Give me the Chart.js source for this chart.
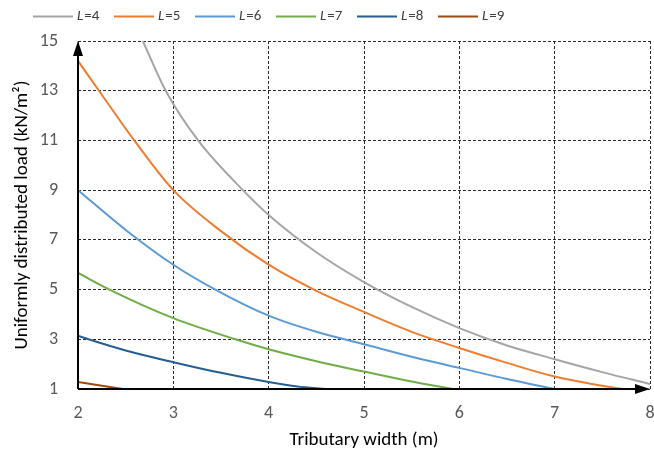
<!DOCTYPE html>
<html>
<head>
<meta charset="utf-8">
<script src="https://cdn.jsdelivr.net/npm/chart.js@4"></script>
<style>
  html, body { margin: 0; padding: 0; background: #fff; }
  #wrap { width: 654px; height: 453px; position: relative; }
</style>
</head>
<body>
<div id="wrap"><canvas id="chart"></canvas></div>
<script>
// hodnoty: [šířka (m), zatížení (kN/m2)]
const spanLabels = ["4", "5", "6", "7", "8", "9"];
const spanColors = ["#A5A5A5", "#ED7D31", "#5B9BD5", "#70AD47", "#255E91", "#9E480E"];

const loadL4 = [[2.68, 15], [2.92, 13], [3.26, 11], [3.73, 9], [4, 8], [4.5, 6.5], [5, 5.3], [5.5, 4.3], [6, 3.45], [6.5, 2.75], [7, 2.2], [7.5, 1.68], [8, 1.2]];
const loadL5 = [[2, 14.2], [2.22, 13], [2.59, 11], [3, 9], [3.5, 7.35], [4, 6], [4.5, 4.95], [5, 4.1], [5.5, 3.3], [6, 2.65], [6.5, 2.05], [7, 1.5], [7.5, 1.13], [7.71, 1]];
const loadL6 = [[2, 9], [2.5, 7.4], [3, 6], [3.44, 5], [4, 3.95], [4.5, 3.3], [5, 2.8], [5.5, 2.3], [6, 1.85], [6.5, 1.4], [7, 1]];
const loadL7 = [[2, 5.67], [2.33, 5], [3, 3.85], [3.65, 3], [4, 2.6], [4.5, 2.12], [5, 1.7], [5.5, 1.3], [5.93, 1]];
const loadL8 = [[2, 3.14], [2.11, 3], [2.5, 2.55], [3, 2.08], [3.5, 1.65], [4, 1.28], [4.3, 1.1], [4.6, 1]];
const loadL9 = [[2, 1.28], [2.47, 1]];

const seriesData = [loadL4, loadL5, loadL6, loadL7, loadL8, loadL9];

const xMin = 2, xMax = 8, xStep = 1;
const yMin = 1, yMax = 15, yStep = 2;

const FONT = "Carlito, Lato, 'Open Sans', sans-serif";

// legenda nahoře (kurzíva L)
const legendPlugin = {
  id: "topLegend",
  afterDraw(chart) {
    const ctx = chart.ctx;
    let x = 33;
    const y = 16.5;
    ctx.save();
    chart.data.datasets.forEach((ds, i) => {
      ctx.strokeStyle = ds.borderColor;
      ctx.lineWidth = 2;
      ctx.beginPath();
      ctx.moveTo(x, y);
      ctx.lineTo(x + 40, y);
      ctx.stroke();
      ctx.fillStyle = "#404040";
      ctx.textBaseline = "middle";
      ctx.font = "italic 15px " + FONT;
      ctx.fillText("L", x + 44, y);
      const w1 = ctx.measureText("L").width;
      ctx.font = "15px " + FONT;
      ctx.fillText("=" + spanLabels[i], x + 44 + w1 + 1, y);
      x += 81;
    });
    ctx.restore();
  },
};

// šipky na koncích os
const arrowPlugin = {
  id: "axisArrows",
  afterDatasetsDraw(chart) {
    const { ctx, chartArea } = chart;
    const { left, right, top, bottom } = chartArea;
    ctx.save();
    ctx.strokeStyle = "#000";
    ctx.fillStyle = "#000";
    ctx.lineWidth = 2;
    ctx.beginPath();
    ctx.moveTo(left, bottom);
    ctx.lineTo(left, top + 4);
    ctx.moveTo(left, bottom);
    ctx.lineTo(right - 4, bottom);
    ctx.stroke();
    ctx.beginPath();
    ctx.moveTo(left, top);
    ctx.lineTo(left - 5, top + 15);
    ctx.lineTo(left + 5, top + 15);
    ctx.closePath();
    ctx.fill();
    ctx.beginPath();
    ctx.moveTo(right, bottom);
    ctx.lineTo(right - 15, bottom - 5);
    ctx.lineTo(right - 15, bottom + 5);
    ctx.closePath();
    ctx.fill();
    ctx.restore();
  },
};

const datasets = seriesData.map((rows, i) => ({
  label: "L=" + spanLabels[i],
  data: rows.map(([x, y]) => ({ x, y })),
  borderColor: spanColors[i],
  backgroundColor: spanColors[i],
  borderWidth: 2,
  pointRadius: 0,
  cubicInterpolationMode: "monotone",
  fill: false,
}));

const ctx = document.getElementById("chart").getContext("2d");
new Chart(ctx, {
  type: "line",
  data: { datasets },
  options: {
    responsive: true,
    maintainAspectRatio: false,
    animation: false,
    layout: { padding: { top: 41, right: 4, left: 0, bottom: 0 } },
    plugins: {
      legend: { display: false },
      tooltip: { enabled: false },
    },
    scales: {
      x: {
        type: "linear",
        min: xMin,
        max: xMax,
        ticks: {
          stepSize: xStep,
          padding: 14,
          color: "#595959",
          font: { family: FONT, size: 18 },
        },
        grid: { color: "#2a2a2a", lineWidth: 1, drawTicks: false },
        border: { display: false, dash: [3, 2] },
        title: {
          display: true,
          text: "Tributary width (m)",
          color: "#000",
          font: { family: FONT, size: 19 },
          padding: { top: 4, bottom: 1 },
        },
        afterFit(scale) {
          scale.height = 64;
          scale.paddingLeft = 0;
          scale.paddingRight = 0;
        },
      },
      y: {
        type: "linear",
        min: yMin,
        max: yMax,
        ticks: {
          stepSize: yStep,
          padding: 20,
          color: "#595959",
          font: { family: FONT, size: 18 },
        },
        grid: { color: "#2a2a2a", lineWidth: 1, drawTicks: false },
        border: { display: false, dash: [3, 2] },
        title: {
          display: true,
          text: "Uniformly distributed load (kN/m²)",
          color: "#000",
          font: { family: FONT, size: 19 },
          padding: { top: 11, bottom: 0 },
        },
        afterFit(scale) {
          scale.width = 78;
          scale.paddingTop = 0;
          scale.paddingBottom = 0;
        },
      },
    },
  },
  plugins: [legendPlugin, arrowPlugin],
});
</script>
</body>
</html>
